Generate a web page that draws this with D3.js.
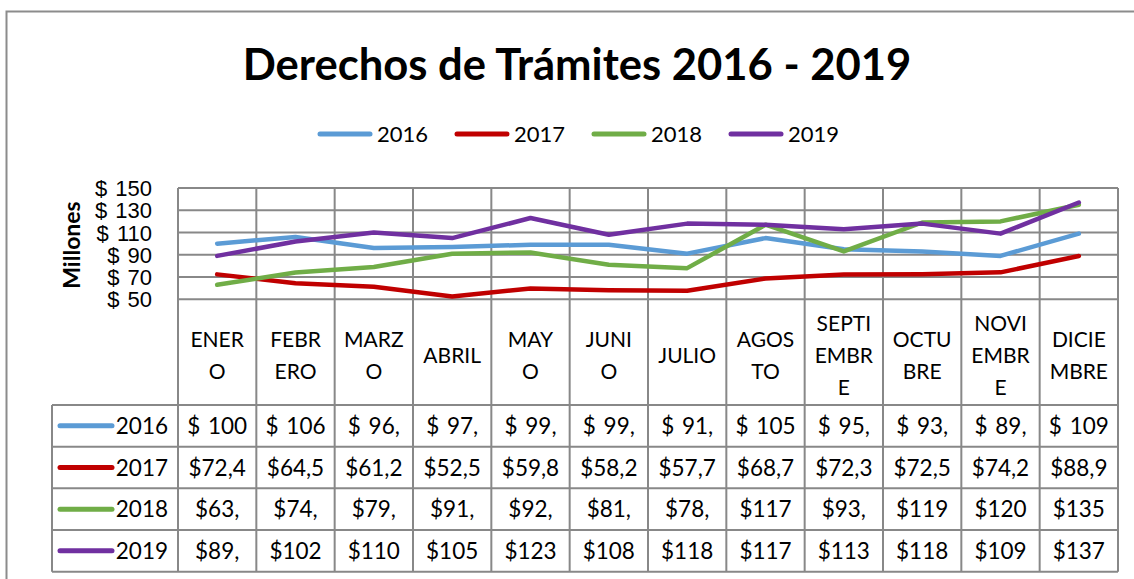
<!DOCTYPE html>
<html>
<head>
<meta charset="utf-8">
<script src="https://cdn.jsdelivr.net/npm/d3@7"></script>
<style>
  html, body { margin: 0; padding: 0; background: #fff; overflow: hidden; }
  svg { display: block; font-family: Lato, Carlito, Calibri, "Open Sans", sans-serif; }
</style>
</head>
<body>
<svg id="chart" width="1134" height="579"></svg>
<script>
// Monthly income from procedure fees, millions of pesos
const months = ["ENERO", "FEBRERO", "MARZO", "ABRIL", "MAYO", "JUNIO", "JULIO",
                "AGOSTO", "SEPTIEMBRE", "OCTUBRE", "NOVIEMBRE", "DICIEMBRE"];
const years = ["2016", "2017", "2018", "2019"];
const values2016 = [100, 106, 96, 97, 99, 99, 91, 105, 95, 93, 89, 109];
const values2017 = [72.4, 64.5, 61.2, 52.5, 59.8, 58.2, 57.7, 68.7, 72.3, 72.5, 74.2, 88.9];
const values2018 = [63, 74, 79, 91, 92, 81, 78, 117, 93, 119, 120, 135];
const values2019 = [89, 102, 110, 105, 123, 108, 118, 117, 113, 118, 109, 137];
const yTicks = [50, 70, 90, 110, 130, 150];
const seriesColors = ["#5B9BD5", "#C00000", "#70AD47", "#7030A0"];
// Data-table cell format per row: currency prefix and how many characters fit in a cell
const cellPrefix = ["$ ", "$", "$", "$"];
const cellChars = [5, 5, 4, 4];

const series = years.map((yr, i) => ({
  year: yr,
  values: [values2016, values2017, values2018, values2019][i],
  color: seriesColors[i],
  prefix: cellPrefix[i],
  chars: cellChars[i]
}));

const svg = d3.select("#chart");
const plot = { left: 178, right: 1118, top: 188, bottom: 299.3 };
const table = { left: 52, top: 405, rowH: 41.67 };
const tableBottom = table.top + table.rowH * series.length;
const grid = "#888888";

const esLocale = d3.formatLocale({ decimal: ",", thousands: ".", grouping: [3], currency: ["$", ""] });
const fmt1 = esLocale.format(",.1f");

const x = d3.scaleBand().domain(months).range([plot.left, plot.right]).paddingInner(0).paddingOuter(0);
const bw = x.bandwidth();
const cx = m => x(m) + bw / 2;
const y = d3.scaleLinear().domain([50, 150]).range([plot.bottom, plot.top]);

// Outer chart frame (runs past the right and bottom edges)
svg.append("rect")
  .attr("x", 6.5).attr("y", 11.5).attr("width", 1160).attr("height", 600)
  .attr("fill", "none").attr("stroke", "#8c8c8c").attr("stroke-width", 2);

// Title, sized to its set width
const title = svg.append("text")
  .attr("x", 577).attr("y", 80)
  .attr("text-anchor", "middle")
  .attr("font-weight", 700)
  .attr("font-size", 40)
  .attr("fill", "#000")
  .text("Derechos de Trámites 2016 - 2019");
{
  const w = title.node().getComputedTextLength();
  title.attr("font-size", 40 * 669 / w);
}

// Legend
const legend = svg.append("g").attr("transform", "translate(318,134)");
series.forEach((s, i) => {
  const g = legend.append("g").attr("transform", `translate(${i * 137},0)`);
  g.append("line").attr("x1", 2).attr("x2", 52).attr("y1", 0).attr("y2", 0)
    .attr("stroke", s.color).attr("stroke-width", 5).attr("stroke-linecap", "round");
  g.append("text").attr("x", 59).attr("y", 8).attr("font-size", 22).attr("fill", "#000").text(s.year);
});

// Horizontal gridlines
svg.append("g").selectAll("line").data(yTicks).join("line")
  .attr("x1", plot.left).attr("x2", plot.right)
  .attr("y1", d => y(d)).attr("y2", d => y(d))
  .attr("stroke", grid).attr("stroke-width", 2);

// Vertical column lines running through plot and data table
const edges = d3.range(months.length + 1).map(i => plot.left + i * bw);
svg.append("g").selectAll("line").data(edges).join("line")
  .attr("x1", d => d).attr("x2", d => d)
  .attr("y1", plot.top).attr("y2", tableBottom)
  .attr("stroke", grid).attr("stroke-width", 2);

// Data-table row lines
const rowEdges = d3.range(series.length + 1).map(r => table.top + r * table.rowH);
svg.append("g").selectAll("line").data(rowEdges).join("line")
  .attr("x1", table.left).attr("x2", plot.right)
  .attr("y1", d => d).attr("y2", d => d)
  .attr("stroke", grid).attr("stroke-width", 2);
svg.append("line")
  .attr("x1", table.left).attr("x2", table.left)
  .attr("y1", table.top).attr("y2", tableBottom)
  .attr("stroke", grid).attr("stroke-width", 2);

// Y axis labels
const yAxis = svg.append("g")
  .attr("transform", `translate(${plot.left},0)`)
  .call(d3.axisLeft(y).tickValues(yTicks).tickSize(0).tickPadding(26).tickFormat(d => "$ " + d));
yAxis.select(".domain").remove();
yAxis.selectAll("text").attr("font-size", 22).attr("font-family", null).attr("fill", "#000")
  .attr("dy", "0.34em").attr("word-spacing", 2);

svg.append("text")
  .attr("transform", "translate(80,245) rotate(-90)")
  .attr("text-anchor", "middle")
  .attr("font-weight", 700).attr("font-size", 23).attr("fill", "#000")
  .text("Millones");

// Month headers, broken by characters to fit the column
const measurer = svg.append("text").attr("font-size", 21).attr("visibility", "hidden");
function wrapChars(str, maxW) {
  const lines = [];
  let cur = "";
  for (const ch of str) {
    measurer.text(cur + ch);
    if (cur && measurer.node().getComputedTextLength() > maxW) {
      lines.push(cur);
      cur = ch;
    } else {
      cur += ch;
    }
  }
  if (cur) lines.push(cur);
  return lines;
}
const headerMid = 355, lineGap = 32;
months.forEach(m => {
  const lines = wrapChars(m, 60);
  const t = svg.append("text").attr("text-anchor", "middle").attr("font-size", 21).attr("fill", "#000");
  lines.forEach((ln, k) => {
    t.append("tspan").attr("x", cx(m))
      .attr("y", headerMid + (k - (lines.length - 1) / 2) * lineGap + 7.5)
      .text(ln);
  });
});
measurer.remove();

// Series lines
const line = d3.line().x((d, i) => cx(months[i])).y(d => y(d));
svg.append("g").selectAll("path").data(series).join("path")
  .attr("d", s => line(s.values))
  .attr("fill", "none")
  .attr("stroke", s => s.color)
  .attr("stroke-width", 4.5)
  .attr("stroke-linecap", "round")
  .attr("stroke-linejoin", "round");

// Data table rows
series.forEach((s, r) => {
  const cy = table.top + (r + 0.5) * table.rowH;
  svg.append("line").attr("x1", 60).attr("x2", 112).attr("y1", cy).attr("y2", cy)
    .attr("stroke", s.color).attr("stroke-width", 5).attr("stroke-linecap", "round");
  svg.append("text").attr("x", 168).attr("y", cy + 8).attr("text-anchor", "end")
    .attr("font-size", 22.5).attr("fill", "#000").text(s.year);
  svg.append("g").selectAll("text").data(s.values).join("text")
    .attr("x", (d, i) => cx(months[i])).attr("y", cy + 8)
    .attr("text-anchor", "middle").attr("font-size", 22.5).attr("fill", "#000")
    .attr("word-spacing", 2)
    .text(d => (s.prefix + fmt1(d)).slice(0, s.chars));
});
</script>
</body>
</html>
